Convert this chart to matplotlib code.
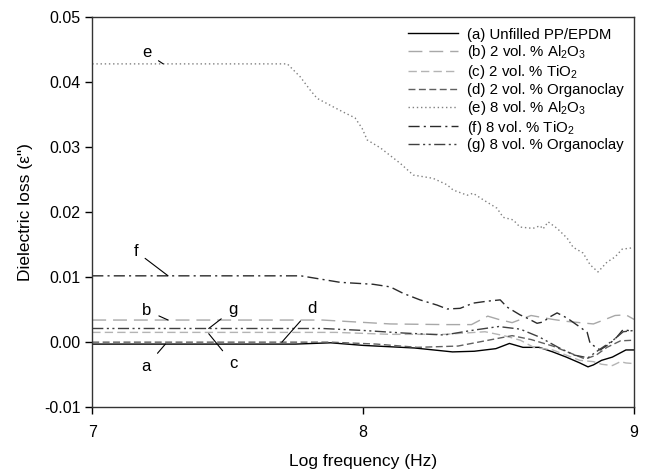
# Dielectric loss vs log frequency for PP/EPDM composites
import matplotlib
matplotlib.use('Agg')
import matplotlib.pyplot as plt

plt.rcParams['font.family'] = ['Liberation Sans', 'DejaVu Sans']
plt.rcParams['mathtext.default'] = 'regular'

# Data
# (a) Unfilled PP/EPDM
a_x = [7.0, 7.75, 7.88, 8.0, 8.19, 8.33, 8.41, 8.47, 8.49, 8.54, 8.59, 8.65, 8.70, 8.75, 8.80, 8.83, 8.85, 8.88, 8.92, 8.97, 9.0]
a_y = [-0.0003, -0.0003, -0.0001, -0.0005, -0.0009, -0.0015, -0.0014, -0.0011, -0.0010, -0.0002, -0.0008, -0.0008,
       -0.0015, -0.0023, -0.0032, -0.0038, -0.0035, -0.0028, -0.0023, -0.0012, -0.0012]
# (b) 2 vol.% Al2O3
b_x = [7.0, 7.85, 8.1, 8.3, 8.4, 8.46, 8.5, 8.55, 8.62, 8.7, 8.75, 8.8, 8.85, 8.9, 8.93, 8.97, 9.0]
b_y = [0.0034, 0.0034, 0.0028, 0.0027, 0.0027, 0.0040, 0.0035, 0.0030, 0.0041, 0.0035, 0.0032, 0.0030, 0.0028,
       0.0036, 0.0041, 0.0042, 0.0035]
# (c) 2 vol.% TiO2
c_x = [7.0, 7.9, 8.1, 8.3, 8.45, 8.52, 8.58, 8.63, 8.7, 8.75, 8.8, 8.85, 8.88, 8.92, 8.95, 8.97, 9.0]
c_y = [0.0015, 0.0015, 0.0012, 0.0012, 0.0016, 0.0010, 0.0003, -0.0008, -0.0012, -0.0020, -0.0028, -0.0030,
       -0.0034, -0.0036, -0.0030, -0.0032, -0.0033]
# (d) 2 vol.% Organoclay
d_x = [7.0, 7.88, 8.05, 8.2, 8.35, 8.45, 8.55, 8.62, 8.7, 8.76, 8.82, 8.86, 8.9, 8.95, 9.0]
d_y = [0.0000, 0.0000, -0.0003, -0.0008, -0.0006, 0.0002, 0.0010, 0.0004, -0.0006, -0.0016, -0.0026, -0.0020,
       -0.0008, 0.0002, 0.0003]
# (e) 8 vol.% Al2O3
e_x = [7.0, 7.72, 7.768, 7.804, 7.83, 7.889, 7.926, 7.97, 7.996, 8.015, 8.063, 8.137, 8.185, 8.258, 8.31, 8.332,
       8.384, 8.406, 8.443, 8.494, 8.517, 8.554, 8.579, 8.627, 8.653, 8.664, 8.683, 8.716, 8.753, 8.775, 8.812,
       8.838, 8.867, 8.9, 8.93, 8.956, 8.993]
e_y = [0.0428, 0.0428, 0.0408, 0.0388, 0.0375, 0.0362, 0.0354, 0.0345, 0.0329, 0.0311, 0.0299, 0.0275, 0.0257,
       0.0252, 0.0242, 0.0234, 0.0226, 0.0229, 0.0219, 0.0206, 0.0192, 0.0188, 0.0177, 0.0175, 0.0179, 0.0174,
       0.0185, 0.0175, 0.0160, 0.0146, 0.0137, 0.0119, 0.0108, 0.0123, 0.0131, 0.0143, 0.0145]
# (f) 8 vol.% TiO2
f_x = [7.0, 7.77, 7.915, 8.037, 8.1, 8.148, 8.21, 8.273, 8.31, 8.358, 8.406, 8.458, 8.506, 8.531, 8.579, 8.605,
       8.642, 8.664, 8.69, 8.716, 8.753, 8.801, 8.827, 8.838, 8.875, 8.911, 8.937, 8.959, 8.996]
f_y = [0.0102, 0.0102, 0.0092, 0.0089, 0.0085, 0.0075, 0.0065, 0.0057, 0.0051, 0.0052, 0.0060, 0.0063, 0.0065,
       0.0054, 0.0042, 0.0037, 0.0029, 0.0031, 0.0039, 0.0045, 0.0037, 0.0023, 0.0015, -0.0002, -0.0012, -0.0002,
       0.0008, 0.0019, 0.0017]
# (g) 8 vol.% Organoclay
g_x = [7.0, 7.85, 8.0, 8.15, 8.3, 8.4, 8.5, 8.58, 8.65, 8.72, 8.78, 8.83, 8.87, 8.92, 8.96, 9.0]
g_y = [0.0021, 0.0021, 0.0018, 0.0014, 0.0011, 0.0018, 0.0024, 0.0020, 0.0008, -0.0008, -0.0020, -0.0024,
       -0.0012, 0.0002, 0.0016, 0.0018]

labels = ['(a) Unfilled PP/EPDM',
          '(b) 2 vol. % Al$_2$O$_3$',
          '(c) 2 vol. % TiO$_2$',
          '(d) 2 vol. % Organoclay',
          '(e) 8 vol. % Al$_2$O$_3$',
          '(f) 8 vol. % TiO$_2$',
          '(g) 8 vol. % Organoclay']

# curve letters: (letter, text pos, arrow end)
tags = [('e', (7.20, 0.0445), (7.262, 0.0428)),
        ('f', (7.16, 0.0140), (7.28, 0.0102)),
        ('b', (7.20, 0.0049), (7.28, 0.0034)),
        ('g', (7.52, 0.0050), (7.43, 0.0021)),
        ('c', (7.52, -0.0033), (7.43, 0.0013)),
        ('a', (7.20, -0.0037), (7.27, -0.0003)),
        ('d', (7.81, 0.0052), (7.70, 0.0000))]

fig = plt.figure(figsize=(6.45, 4.74), dpi=100)
ax = fig.add_axes([0.143, 0.141, 0.840, 0.823])

ax.plot(a_x, a_y, color='black', lw=1.0, ls='-', label=labels[0])
ax.plot(b_x, b_y, color='#a8a8a8', lw=1.0, ls=(0, (10, 5)), label=labels[1])
ax.plot(c_x, c_y, color='#b4b4b4', lw=1.0, ls=(0, (6, 3)), label=labels[2])
ax.plot(d_x, d_y, color='#606060', lw=1.0, ls=(0, (5, 2.5)), label=labels[3])
ax.plot(e_x, e_y, color='#808080', lw=1.0, ls=(0, (1, 2)), label=labels[4])
ax.plot(f_x, f_y, color='#2a2a2a', lw=1.0, ls=(0, (8, 3, 1.5, 3)), label=labels[5])
ax.plot(g_x, g_y, color='#404040', lw=1.0, ls=(0, (8, 2.5, 1.5, 2.5, 1.5, 2.5)), label=labels[6])

for letter, txt, pt in tags:
    ax.annotate(letter, xy=pt, xytext=txt, fontsize=12, ha='center', va='center',
                arrowprops=dict(arrowstyle='-', color='black', lw=0.8, shrinkA=4, shrinkB=0))

ax.set_xlim(7, 9)
ax.set_ylim(-0.01, 0.05)
ax.set_xticks([7, 8, 9])
ax.set_yticks([-0.01, 0.0, 0.01, 0.02, 0.03, 0.04, 0.05])
ax.set_yticklabels(['-0.01', '0.00', '0.01', '0.02', '0.03', '0.04', '0.05'])
ax.tick_params(direction='out', length=5, labelsize=11.5, width=1)
ax.tick_params(axis='x', pad=8)
ax.set_xlabel('Log frequency (Hz)', fontsize=12.5, labelpad=10)
ax.set_ylabel('Dielectric loss (ε")', fontsize=12.5, labelpad=8)
for s in ax.spines.values():
    s.set_linewidth(1.0)
    s.set_color('#333333')

ax.legend(loc='upper right', frameon=False, fontsize=10.8, handlelength=3.3,
          labelspacing=0.12, handletextpad=0.6, borderaxespad=0.3)

fig.savefig('out.png', dpi=100)
